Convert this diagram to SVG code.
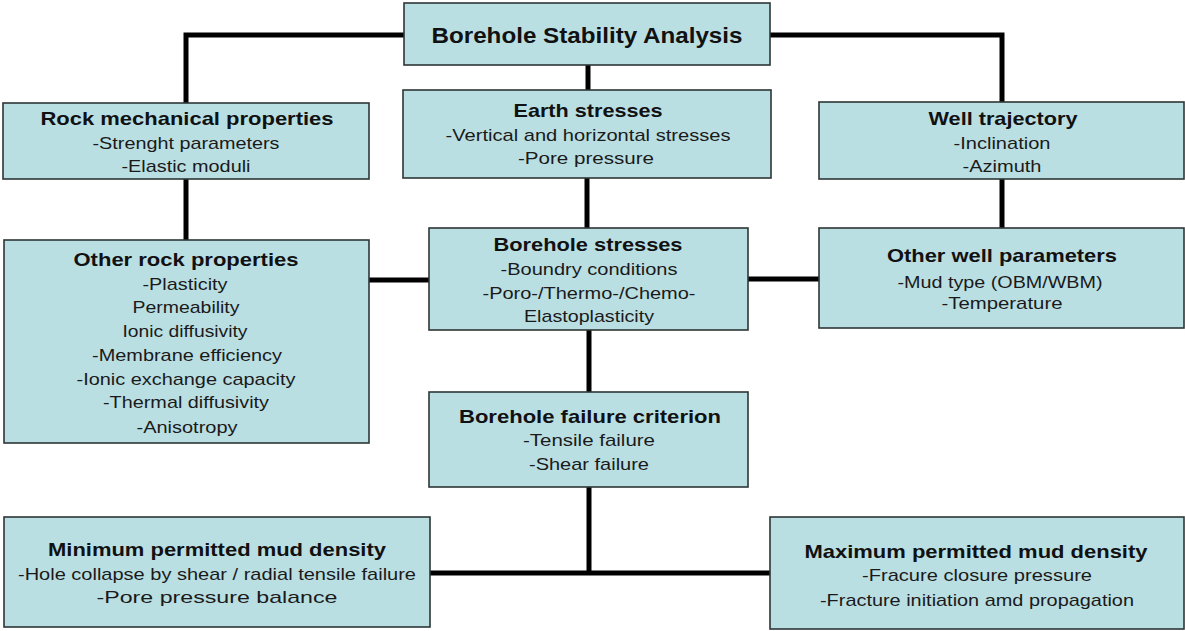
<svg xmlns="http://www.w3.org/2000/svg" width="1185" height="631" viewBox="0 0 1185 631">
  <style>
    .box { fill: #badfe3; stroke: #2f3535; stroke-width: 1.6; }
    .t { font-family: "Liberation Sans", Arial, sans-serif; font-weight: bold; font-size: 19px; fill: #111; text-anchor: middle; }
    .tt { font-size: 22px; }
    .s { font-family: "Liberation Sans", Arial, sans-serif; font-size: 17px; fill: #1a1a1a; text-anchor: middle; }
    .wire { fill: none; stroke: #000; stroke-width: 5; stroke-linecap: butt; stroke-linejoin: miter; }
  </style>

  <!-- connecting lines -->
  <g id="connectors">
    <path class="wire" d="M186 103 V35 H404"/>
    <path class="wire" d="M770 35 H1002 V102"/>
    <path class="wire" d="M588 65 V90"/>
    <path class="wire" d="M587 178 V228"/>
    <path class="wire" d="M186 179 V240"/>
    <path class="wire" d="M1002 179 V228"/>
    <path class="wire" d="M369 280 H429"/>
    <path class="wire" d="M748 279 H819"/>
    <path class="wire" d="M589 330 V392"/>
    <path class="wire" d="M589 487 V573"/>
    <path class="wire" d="M430 573 H770"/>
  </g>

  <g id="borehole-stability-analysis">
    <rect class="box" x="404" y="3" width="366" height="62"/>
    <text class="t tt" x="587" y="43" textLength="311" lengthAdjust="spacingAndGlyphs">Borehole Stability Analysis</text>
  </g>

  <g id="rock-mechanical-properties">
    <rect class="box" x="3" y="103" width="366" height="76"/>
    <text class="t" x="187" y="125" textLength="293" lengthAdjust="spacingAndGlyphs">Rock mechanical properties</text>
    <text class="s" x="186" y="149" textLength="187" lengthAdjust="spacingAndGlyphs">-Strenght parameters</text>
    <text class="s" x="186" y="172" textLength="129" lengthAdjust="spacingAndGlyphs">-Elastic moduli</text>
  </g>

  <g id="earth-stresses">
    <rect class="box" x="403" y="90" width="368" height="88"/>
    <text class="t" x="588" y="117" textLength="149" lengthAdjust="spacingAndGlyphs">Earth stresses</text>
    <text class="s" x="588" y="141" textLength="285" lengthAdjust="spacingAndGlyphs">-Vertical and horizontal stresses</text>
    <text class="s" x="586" y="164" textLength="136" lengthAdjust="spacingAndGlyphs">-Pore pressure</text>
  </g>

  <g id="well-trajectory">
    <rect class="box" x="819" y="102" width="365" height="77"/>
    <text class="t" x="1003" y="125" textLength="149" lengthAdjust="spacingAndGlyphs">Well trajectory</text>
    <text class="s" x="1002" y="149" textLength="97" lengthAdjust="spacingAndGlyphs">-Inclination</text>
    <text class="s" x="1002" y="172" textLength="79" lengthAdjust="spacingAndGlyphs">-Azimuth</text>
  </g>

  <g id="other-rock-properties">
    <rect class="box" x="4" y="240" width="365" height="203"/>
    <text class="t" x="186" y="266" textLength="225" lengthAdjust="spacingAndGlyphs">Other rock properties</text>
    <text class="s" x="185" y="290" textLength="85" lengthAdjust="spacingAndGlyphs">-Plasticity</text>
    <text class="s" x="186" y="313" textLength="107" lengthAdjust="spacingAndGlyphs">Permeability</text>
    <text class="s" x="185" y="337" textLength="125" lengthAdjust="spacingAndGlyphs">Ionic diffusivity</text>
    <text class="s" x="187" y="361" textLength="190" lengthAdjust="spacingAndGlyphs">-Membrane efficiency</text>
    <text class="s" x="186" y="385" textLength="219" lengthAdjust="spacingAndGlyphs">-Ionic exchange capacity</text>
    <text class="s" x="186" y="408" textLength="166" lengthAdjust="spacingAndGlyphs">-Thermal diffusivity</text>
    <text class="s" x="187" y="433" textLength="101" lengthAdjust="spacingAndGlyphs">-Anisotropy</text>
  </g>

  <g id="borehole-stresses">
    <rect class="box" x="429" y="228" width="319" height="102"/>
    <text class="t" x="588" y="251" textLength="189" lengthAdjust="spacingAndGlyphs">Borehole stresses</text>
    <text class="s" x="589" y="275" textLength="177" lengthAdjust="spacingAndGlyphs">-Boundry conditions</text>
    <text class="s" x="589" y="299" textLength="213" lengthAdjust="spacingAndGlyphs">-Poro-/Thermo-/Chemo-</text>
    <text class="s" x="589" y="322" textLength="130" lengthAdjust="spacingAndGlyphs">Elastoplasticity</text>
  </g>

  <g id="other-well-parameters">
    <rect class="box" x="819" y="228" width="365" height="100"/>
    <text class="t" x="1002" y="262" textLength="230" lengthAdjust="spacingAndGlyphs">Other well parameters</text>
    <text class="s" x="1000" y="288" textLength="205" lengthAdjust="spacingAndGlyphs">-Mud type (OBM/WBM)</text>
    <text class="s" x="1002" y="309" textLength="121" lengthAdjust="spacingAndGlyphs">-Temperature</text>
  </g>

  <g id="borehole-failure-criterion">
    <rect class="box" x="429" y="392" width="319" height="95"/>
    <text class="t" x="590" y="423" textLength="262" lengthAdjust="spacingAndGlyphs">Borehole failure criterion</text>
    <text class="s" x="589" y="446" textLength="132" lengthAdjust="spacingAndGlyphs">-Tensile failure</text>
    <text class="s" x="589" y="470" textLength="120" lengthAdjust="spacingAndGlyphs">-Shear failure</text>
  </g>

  <g id="minimum-mud-density">
    <rect class="box" x="4" y="517" width="426" height="110"/>
    <text class="t" x="217" y="556" textLength="338" lengthAdjust="spacingAndGlyphs">Minimum permitted mud density</text>
    <text class="s" x="217" y="580" textLength="398" lengthAdjust="spacingAndGlyphs">-Hole collapse by shear / radial tensile failure</text>
    <text class="s" x="217" y="603" textLength="241" lengthAdjust="spacingAndGlyphs">-Pore pressure balance</text>
  </g>

  <g id="maximum-mud-density">
    <rect class="box" x="770" y="517" width="414" height="112"/>
    <text class="t" x="976" y="558" textLength="343" lengthAdjust="spacingAndGlyphs">Maximum permitted mud density</text>
    <text class="s" x="977" y="581" textLength="230" lengthAdjust="spacingAndGlyphs">-Fracure closure pressure</text>
    <text class="s" x="977" y="606" textLength="314" lengthAdjust="spacingAndGlyphs">-Fracture initiation amd propagation</text>
  </g>
</svg>
